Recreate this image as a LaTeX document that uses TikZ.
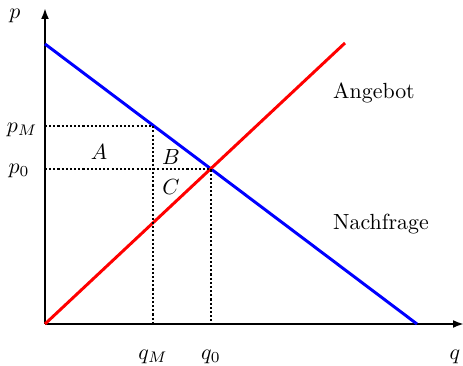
\documentclass[tikz,border=0pt]{standalone}
\usetikzlibrary{arrows.meta,intersections}
\begin{document}
\begin{tikzpicture}[x=0.4566pt,y=-0.4566pt,
  axis/.style={line width=0.9pt,-{Latex[length=5pt,width=3.6pt]}},
  curve/.style={line width=1.35pt},
  guide/.style={line width=0.95pt,dash pattern=on 0.95pt off 0.95pt},
  lbl/.style={inner sep=0pt}]
\useasboundingbox (0,0) rectangle (463,366);
\coordinate (O) at (45,324);
\coordinate (ytop) at (45,8);
\coordinate (xend) at (464,324);
\coordinate (d1) at (45,44);
\coordinate (d2) at (417,324);
\coordinate (s2) at (345,43);
\draw[axis] (O) -- (ytop);
\draw[axis] (O) -- (xend);
\draw[curve,blue,name path=dem] (d1) -- (d2);
\draw[curve,red,name path=sup] (O) -- (s2);
\path[name intersections={of=dem and sup,by=E}];
\coordinate (pM) at (45,126);
\coordinate (M) at (153,126);
\coordinate (qM) at (153,324);
\coordinate (p0) at (O |- E);
\coordinate (q0) at (O -| E);
\draw[guide] (pM) -- (M) -- (qM);
\draw[guide] (p0) -- (E) -- (q0);
\node[lbl] (lp) at (15,16) {$p$};
\node[lbl] (lpM) at (22,130) {$p_M$};
\node[lbl] (lp0) at (19,171) {$p_0$};
\node[lbl] (lA) at (99,152) {$A$};
\node[lbl] (lB) at (171,157) {$B$};
\node[lbl] (lC) at (171,187) {$C$};
\node[lbl] (lqM) at (153,357) {$q_M$};
\node[lbl] (lq0) at (211,357) {$q_0$};
\node[lbl] (lq) at (455,357) {$q$};
\node[lbl] (lAng) at (374,93) {Angebot};
\node[lbl] (lNach) at (381,224) {Nachfrage};
\end{tikzpicture}
\end{document}
